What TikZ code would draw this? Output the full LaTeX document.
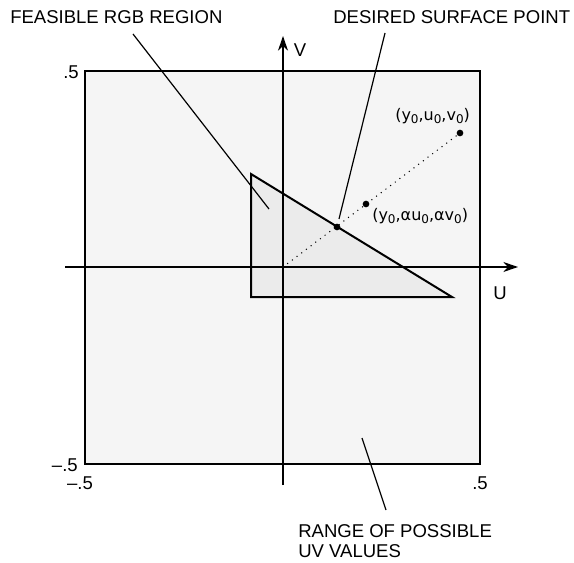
\documentclass[tikz,border=0pt]{standalone}
\usepackage{fontspec}
\setmainfont{Liberation Sans}
\newfontfamily\ptfont{DejaVu Sans}
\usetikzlibrary{arrows.meta}
\definecolor{rangegray}{gray}{0.96}
\definecolor{rgbgray}{gray}{0.92}
\newcommand{\zsub}{\raisebox{-0.4ex}{\fontsize{9}{9}\selectfont 0}}

\begin{document}
\begin{tikzpicture}[x=0.75pt,y=-0.75pt,
  frame/.style={line width=1.5pt},
  leader/.style={line width=0.9pt},
  axis/.style={line width=1.3pt,-{Stealth[length=11pt,width=7.5pt]}},
  lbl/.style={inner sep=0pt,font=\fontsize{13.9}{15.5}\selectfont},
  pt/.style={inner sep=0pt,font=\ptfont\fontsize{12}{14}\selectfont},
  dot/.style={circle,fill=black,inner sep=0pt,minimum size=5pt}]
\useasboundingbox (0,0) rectangle (574,563);
% range of uv values and feasible region
\draw[frame,fill=rangegray] (85,71) rectangle (480,464);
\draw[frame,fill=rgbgray] (251,174) -- (251,297) -- (452,297) -- cycle;
\draw[axis] (65,267) -- (518,267);
\draw[axis] (283,485) -- (283,36);
\node[lbl] (ulbl) at (500,293) {U};
\node[lbl] (vlbl) at (300,50) {V};
\node[lbl,anchor=east] (vtop) at (79,72) {.5};
\node[lbl,anchor=east] (vbot) at (78,465) {–.5};
\node[lbl] (ulo) at (80,483) {–.5};
\node[lbl] (uhi) at (480,483) {.5};
% scaled chroma line
\coordinate (O) at (283,267);
\node[dot] (uv) at (460,133) {};
\node[dot] (auv) at (366,204) {};
\node[dot] (hit) at (337,227) {};
\draw[line width=1.1pt,line cap=round,dash pattern=on 0pt off 4.4pt] (O) -- (uv);
\node[pt,anchor=west] (uvlbl) at (395,116) {(y\zsub,u\zsub,v\zsub)};
\node[pt,anchor=west] (auvlbl) at (372,216) {(y\zsub,αu\zsub,αv\zsub)};
% callouts
\node[lbl,anchor=west] (feas) at (10,17) {FEASIBLE RGB REGION};
\node[lbl,anchor=west] (want) at (333,17) {DESIRED SURFACE POINT};
\node[lbl,anchor=west,align=left] (range) at (298,541) {RANGE OF POSSIBLE\\UV VALUES};
\coordinate (feasfoot) at (133,34);
\coordinate (feastip) at (269,209);
\coordinate (wantfoot) at (385,33);
\coordinate (wanttip) at (339,219);
\coordinate (rangefoot) at (386,510);
\coordinate (rangetip) at (362,438);
\draw[leader] (feasfoot) -- (feastip);
\draw[leader] (wantfoot) -- (wanttip);
\draw[leader] (rangefoot) -- (rangetip);
\end{tikzpicture}
\end{document}
